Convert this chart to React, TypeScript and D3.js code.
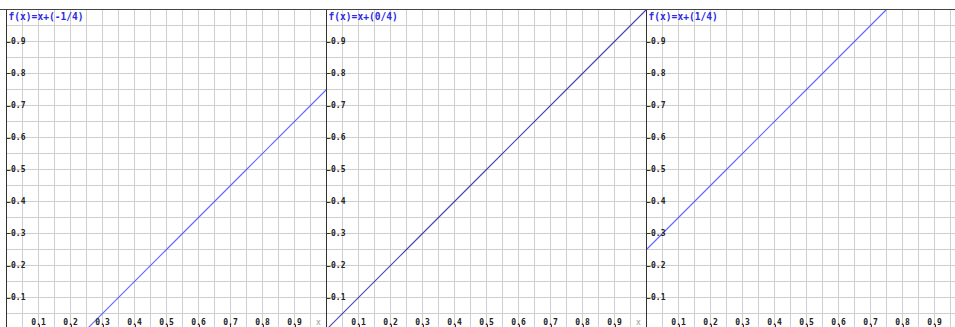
import React from "react";
import * as d3 from "d3";

const offsetNum = [-1, 0, 1];
const offsetDen = [4, 4, 4];
const titles = ["f(x)=x+(-1/4)", "f(x)=x+(0/4)", "f(x)=x+(1/4)"];
const lineColors = ["#6464ff", "#4646aa", "#6464ff"];
const tickValues = [0.1, 0.2, 0.3, 0.4, 0.5, 0.6, 0.7, 0.8, 0.9];
const tickLabels = ["0.1", "0.2", "0.3", "0.4", "0.5", "0.6", "0.7", "0.8", "0.9"];
const gridValues = d3.range(1, 21).map((i) => i * 0.05);
const sampleX = [0, 0.25, 0.5, 0.75, 1];

const W = 955;
const H = 327;
const PW = 320;
const OX = 6.5;
const TOP = 9.5;
const BOT = 329.5;
const mono = "'DejaVu Sans Mono', monospace";

function Panel({ i }: { i: number }) {
  const ox = OX + PW * i;
  const x = d3.scaleLinear().domain([0, 1]).range([ox, ox + PW]);
  const y = d3.scaleLinear().domain([0, 1]).range([BOT, TOP]);
  const c = offsetNum[i] / offsetDen[i];
  const pts: [number, number][] = sampleX.map((v) => [v, v + c]);
  const line = d3
    .line<[number, number]>()
    .x((d) => x(d[0]))
    .y((d) => y(d[1]));
  const clipId = `clip${i}`;
  const showX = x(1) - 8 < W - 4;
  return (
    <g>
      <defs>
        <clipPath id={clipId}>
          <rect x={x(0)} y={y(1)} width={x(1) - x(0)} height={y(0) - y(1)} />
        </clipPath>
      </defs>
      {gridValues.map((v, k) => (
        <line key={"gv" + k} x1={x(v)} x2={x(v)} y1={y(1)} y2={y(0)} stroke="#cfcfcf" strokeWidth={1} />
      ))}
      {gridValues.map((v, k) => (
        <line key={"gh" + k} x1={x(0)} x2={x(1)} y1={y(v)} y2={y(v)} stroke="#cfcfcf" strokeWidth={1} />
      ))}
      <path
        d={line(pts) || ""}
        fill="none"
        style={{ stroke: lineColors[i], strokeWidth: 1.1 }}
        clipPath={`url(#${clipId})`}
      />
      <line x1={x(0)} x2={x(0)} y1={y(1)} y2={y(0)} stroke="#333" strokeWidth={1} />
      {tickValues.map((v, k) => (
        <g key={"yt" + k}>
          <line x1={x(0)} x2={x(0) + 4} y1={Math.round(y(v)) + 0.5} y2={Math.round(y(v)) + 0.5} stroke="#333" />
          <text x={x(0) + 4.5} y={y(v) + 2.8} fontFamily={mono} fontWeight="bold" fontSize={8} fill="#222">
            {tickLabels[k]}
          </text>
        </g>
      ))}
      {tickValues.map((v, k) => (
        <g key={"xt" + k}>
          <line x1={Math.round(x(v)) + 0.5} x2={Math.round(x(v)) + 0.5} y1={y(0)} y2={y(0) - 5} stroke="#333" />
          <text x={x(v)} y={325} textAnchor="middle" fontFamily={mono} fontWeight="bold" fontSize={8} fill="#222">
            {tickLabels[k]}
          </text>
        </g>
      ))}
      {showX && (
        <text x={x(1) - 8} y={325} textAnchor="middle" fontFamily={mono} fontSize={8} fill="#999">
          x
        </text>
      )}
      <text x={x(0) + 2} y={20} fontFamily={mono} fontWeight="bold" fontSize={9.6} fill="#2a2ae6">
        {titles[i]}
      </text>
    </g>
  );
}

export default function App() {
  return (
    <svg
      width={W}
      height={H}
      style={{ position: "absolute", left: 0, top: 0, background: "#fff" }}
    >
      <rect x={0} y={0} width={W} height={H} fill="#fff" />
      {[0, 1, 2].map((i) => (
        <Panel key={i} i={i} />
      ))}
      <line x1={0} x2={W} y1={TOP} y2={TOP} stroke="#444" strokeWidth={1} />
    </svg>
  );
}
